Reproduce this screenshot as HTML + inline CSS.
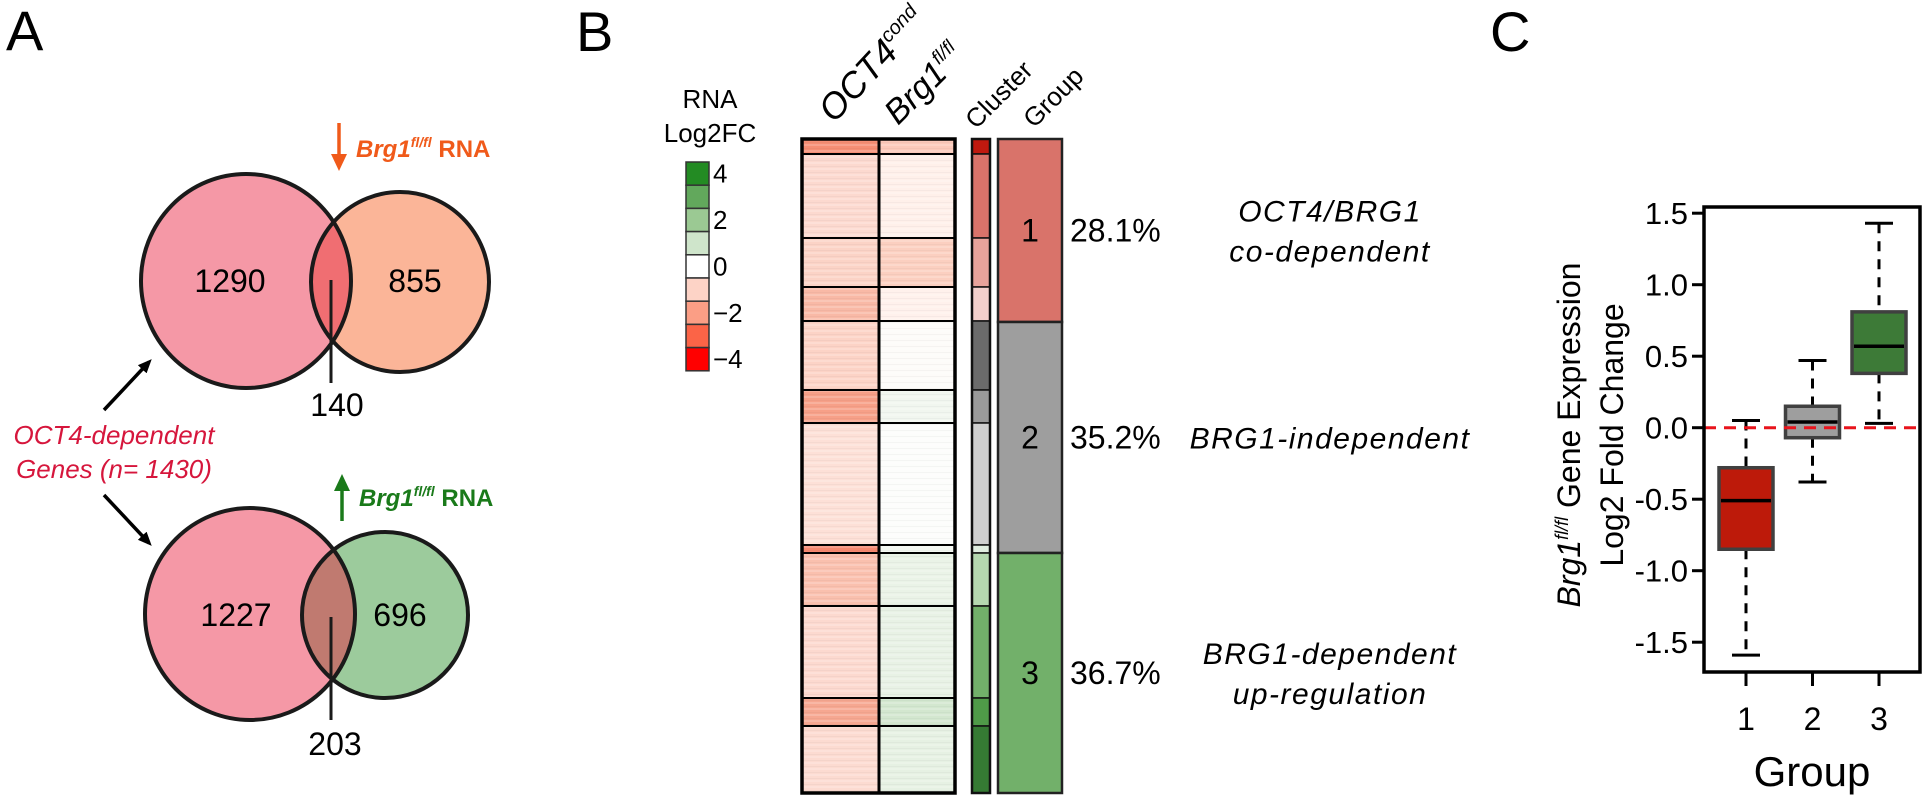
<!DOCTYPE html>
<html><head><meta charset="utf-8"><style>
html,body{margin:0;padding:0;background:#fff;}
svg{display:block;font-family:"Liberation Sans",Arial,sans-serif;}
</style></head><body>
<svg id="fig" width="1922" height="800" viewBox="0 0 1922 800" xmlns="http://www.w3.org/2000/svg">
<defs>
<marker id="ah" markerWidth="14" markerHeight="12" refX="10" refY="6" orient="auto" markerUnits="userSpaceOnUse"><path d="M0,0 L14,6 L0,12 Z" fill="#000"/></marker>
<pattern id="stripes" width="10" height="6" patternUnits="userSpaceOnUse"><rect width="10" height="2" y="0" fill="#fff" opacity="0.18"/><rect width="10" height="1" y="4" fill="#000" opacity="0.03"/></pattern>
</defs>

<!-- Panel A -->
<g>
<text x="6" y="50" font-size="56">A</text>
<g>
<ellipse cx="246" cy="281" rx="105" ry="107" fill="#f598a6"/>
<ellipse cx="400" cy="282" rx="89" ry="90" fill="#fbb598"/>
<clipPath id="c1"><ellipse cx="246" cy="281" rx="105" ry="107"/></clipPath>
<ellipse cx="400" cy="282" rx="89" ry="90" fill="#f06e72" clip-path="url(#c1)"/>
<ellipse cx="246" cy="281" rx="105" ry="107" fill="none" stroke="#1a1a1a" stroke-width="4"/>
<ellipse cx="400" cy="282" rx="89" ry="90" fill="none" stroke="#1a1a1a" stroke-width="4"/>
<text x="230" y="292" font-size="32" text-anchor="middle">1290</text>
<text x="415" y="292" font-size="32" text-anchor="middle">855</text>
<line x1="331" y1="280" x2="331" y2="383" stroke="#1a1a1a" stroke-width="3"/>
<text x="337" y="416" font-size="32" text-anchor="middle">140</text>
<line x1="339" y1="123" x2="339" y2="156" stroke="#f05a1a" stroke-width="3.5"/>
<path d="M331,154 L347,154 L339,171 Z" fill="#f05a1a"/>
<text x="356" y="157" font-size="24" font-weight="bold" fill="#f05a1a"><tspan font-style="italic">Brg1</tspan><tspan font-style="italic" font-size="14" dy="-10">fl/fl</tspan><tspan dy="10"> RNA</tspan></text>
</g>
<g>
<ellipse cx="250" cy="614" rx="105" ry="106" fill="#f598a6"/>
<ellipse cx="385" cy="615" rx="83" ry="83" fill="#9ccb9c"/>
<clipPath id="c2"><ellipse cx="250" cy="614" rx="105" ry="106"/></clipPath>
<ellipse cx="385" cy="615" rx="83" ry="83" fill="#c07a70" clip-path="url(#c2)"/>
<ellipse cx="250" cy="614" rx="105" ry="106" fill="none" stroke="#1a1a1a" stroke-width="4"/>
<ellipse cx="385" cy="615" rx="83" ry="83" fill="none" stroke="#1a1a1a" stroke-width="4"/>
<text x="236" y="626" font-size="32" text-anchor="middle">1227</text>
<text x="400" y="626" font-size="32" text-anchor="middle">696</text>
<line x1="331" y1="617" x2="331" y2="720" stroke="#1a1a1a" stroke-width="3"/>
<text x="335" y="755" font-size="32" text-anchor="middle">203</text>
<line x1="342" y1="521" x2="342" y2="489" stroke="#1a7a1a" stroke-width="3.5"/>
<path d="M334,491 L350,491 L342,474 Z" fill="#1a7a1a"/>
<text x="359" y="506" font-size="24" font-weight="bold" fill="#1a7a1a"><tspan font-style="italic">Brg1</tspan><tspan font-style="italic" font-size="14" dy="-10">fl/fl</tspan><tspan dy="10"> RNA</tspan></text>
</g>
<text x="114" y="444" font-size="26" font-style="italic" fill="#d6163c" text-anchor="middle">OCT4-dependent</text>
<text x="114" y="478" font-size="26" font-style="italic" fill="#d6163c" text-anchor="middle">Genes (n= 1430)</text>
<line x1="104" y1="410" x2="149" y2="362" stroke="#000" stroke-width="3.5" marker-end="url(#ah)"/>
<line x1="104" y1="495" x2="149" y2="543" stroke="#000" stroke-width="3.5" marker-end="url(#ah)"/>
</g>

<!-- Panel B -->
<g id="panelB">
<text x="576" y="51" font-size="56">B</text>
<text x="710" y="108" font-size="26" text-anchor="middle">RNA</text>
<text x="710" y="142" font-size="26" text-anchor="middle">Log2FC</text>
<g id="cbar"></g>
<g id="heat"></g>
<text transform="translate(834,124) rotate(-47)" font-size="36" font-style="italic">OCT4<tspan font-size="20" dy="-15">cond</tspan></text>
<text transform="translate(898,126) rotate(-45)" font-size="34" font-style="italic">Brg1<tspan font-size="19" dy="-14">fl/fl</tspan></text>
<text transform="translate(976,130) rotate(-45)" font-size="26">Cluster</text>
<text transform="translate(1034,129) rotate(-45)" font-size="26">Group</text>
</g>

<!-- Panel C -->
<g id="panelC">
<text x="1490" y="51" font-size="56">C</text>
<text transform="translate(1580,435) rotate(-90)" font-size="32" text-anchor="middle"><tspan font-style="italic">Brg1</tspan><tspan font-style="italic" font-size="18" dy="-12">fl/fl</tspan><tspan dy="12"> Gene Expression</tspan></text>
<text transform="translate(1623,435) rotate(-90)" font-size="32" text-anchor="middle">Log2 Fold Change</text>
<text x="1812" y="786" font-size="42" text-anchor="middle">Group</text>
<g id="boxplot"></g>
</g>
</svg>
<script>
const NS='http://www.w3.org/2000/svg';
function mk(tag,attrs,parent){const e=document.createElementNS(NS,tag);for(const k in attrs)e.setAttribute(k,attrs[k]);parent.appendChild(e);return e;}

// ---- Colorbar data ----
const cbarColors=['#238b23','#62a85c','#9bc993','#cfe5cb','#ffffff','#fdd3c6','#fb9e85','#fb6447','#ff0000'];
const cbarTicks=['4','2','0','\u22122','\u22124'];
const cb=document.getElementById('cbar');
const cbX=686,cbY=162,cbW=23,cbH=23.2;
cbarColors.forEach((c,i)=>{
  const r=mk('rect',{x:cbX,y:cbY+i*cbH,width:cbW,height:cbH,fill:c,stroke:'#333','stroke-width':1.5},cb);
  
  
});
cbarTicks.forEach((t,i)=>{
  const tx=mk('text',{x:cbX+cbW+4,y:cbY+(i*2+0.5)*cbH+9,'font-size':26},cb);
  tx.textContent=t;
  
  
});

// ---- Heatmap data ----
const clusterSizes=[15,84,49,34,69,33,122,8,53,92,28,67];
const oct4Colors=['#f68e74','#fcd9cf','#fbd3c6','#f9b9a6','#fcd3c6','#f7a088','#fde0d7','#f58870','#fac0ae','#fcd9cf','#f6a791','#fcdbd1'];
const brg1Colors=['#fcc9ba','#fff0ea','#fbcfc0','#fff1ec','#fdfbf9','#f1f6ef','#fcfdfb','#f4f8f2','#eaf3e7','#e8f2e5','#d3e7cf','#e6f1e3'];
const clusterColors=['#c0190f','#d9736a','#e8a39b','#f2d0cc','#6b6b6b','#9a9a9a','#cfcfcf','#e0ede0','#b5d8b0','#72b06a','#4f9a48','#357a33'];
const groupSizes=[183,231,240];
const groupLabels=['1','2','3'];
const groupPct=['28.1%','35.2%','36.7%'];
const groupColors=['#d9736a','#9e9e9e','#72b06a'];
const groupDesc=[['OCT4/BRG1','co-dependent'],['BRG1-independent'],['BRG1-dependent','up-regulation']];

const hm=document.getElementById('heat');
const hTop=139,hBot=793;
const total=clusterSizes.reduce((a,b)=>a+b,0);
const ys=v=>hTop+v/total*(hBot-hTop);
const col1X=802,col2X=879,colEnd=955,clX=972,clW=18,grX=998,grW=64;
let acc=0;
clusterSizes.forEach((s,i)=>{
  const y0=ys(acc),y1=ys(acc+s);
  const a=mk('rect',{x:col1X,y:y0,width:col2X-col1X,height:y1-y0,fill:oct4Colors[i]},hm);
  
  
  mk('rect',{x:col1X,y:y0,width:col2X-col1X,height:y1-y0,fill:'url(#stripes)'},hm);
  const b=mk('rect',{x:col2X,y:y0,width:colEnd-col2X,height:y1-y0,fill:brg1Colors[i]},hm);
  
  
  mk('rect',{x:col2X,y:y0,width:colEnd-col2X,height:y1-y0,fill:'url(#stripes)'},hm);
  if(acc>0) mk('line',{x1:col1X,x2:colEnd,y1:y0,y2:y0,stroke:'#000','stroke-width':2},hm);
  const c=mk('rect',{x:clX,y:y0,width:clW,height:y1-y0,fill:clusterColors[i],stroke:'#111','stroke-width':1.5},hm);
  
  
  acc+=s;
});
mk('rect',{x:col1X,y:hTop,width:colEnd-col1X,height:hBot-hTop,fill:'none',stroke:'#000','stroke-width':3.5},hm);
mk('line',{x1:col2X,x2:col2X,y1:hTop,y2:hBot,stroke:'#000','stroke-width':3},hm);
mk('rect',{x:clX,y:hTop,width:clW,height:hBot-hTop,fill:'none',stroke:'#111','stroke-width':2.5},hm);
const gTotal=groupSizes.reduce((a,b)=>a+b,0);
const gys=v=>hTop+v/gTotal*(hBot-hTop);
let gacc=0;
groupSizes.forEach((s,i)=>{
  const y0=gys(gacc),y1=gys(gacc+s),ym=(y0+y1)/2;
  const r=mk('rect',{x:grX,y:y0,width:grW,height:y1-y0,fill:groupColors[i],stroke:'#222','stroke-width':2.5},hm);
  
  
  const n=mk('text',{x:grX+grW/2,y:ym+11,'font-size':32,'text-anchor':'middle'},hm);
  n.textContent=groupLabels[i];
  
  
  const p=mk('text',{x:1070,y:ym+11,'font-size':32},hm);
  p.textContent=groupPct[i];
  
  
  const lines=groupDesc[i];
  lines.forEach((l,j)=>{
    const t=mk('text',{x:1330,y:ym+11+(j-(lines.length-1)/2)*40,'font-size':30,'font-style':'italic','text-anchor':'middle','letter-spacing':'1.5'},hm);
    t.textContent=l;
    
    
  });
  gacc+=s;
});

// ---- Boxplot data ----
const groups=['1','2','3'];
const whiskerLow=[-1.59,-0.38,0.03];
const q1=[-0.85,-0.07,0.38];
const median=[-0.51,0.04,0.57];
const q3=[-0.28,0.15,0.81];
const whiskerHigh=[0.05,0.47,1.43];
const boxColors=['#bd1a0a','#9e9e9e','#3d7a37'];
const yTicks=[1.5,1.0,0.5,0.0,-0.5,-1.0,-1.5];

const bp=document.getElementById('boxplot');
const pL=1704,pR=1920,pT=207,pB=672;
const yScale=v=>427.7-v*143;
const xScale=i=>1746+i*66.5;
const bw=54;
yTicks.forEach(t=>{
  const y=yScale(t);
  mk('line',{x1:pL-12,x2:pL,y1:y,y2:y,stroke:'#000','stroke-width':3},bp);
  const tx=mk('text',{x:pL-16,y:y+11,'font-size':31,'text-anchor':'end'},bp);
  tx.textContent=t.toFixed(1);
  
  
});
groups.forEach((g,i)=>{
  const x=xScale(i);
  mk('line',{x1:x,x2:x,y1:pB,y2:pB+14,stroke:'#000','stroke-width':3},bp);
  const tx=mk('text',{x:x,y:730,'font-size':32,'text-anchor':'middle'},bp);
  tx.textContent=g;
  
  
});
groups.forEach((g,i)=>{
  const x=xScale(i);
  const wg=mk('g',{},bp);
  
  
  mk('line',{x1:x,x2:x,y1:yScale(whiskerHigh[i]),y2:yScale(q3[i]),stroke:'#000','stroke-width':3,'stroke-dasharray':'10,8'},wg);
  mk('line',{x1:x,x2:x,y1:yScale(q1[i]),y2:yScale(whiskerLow[i]),stroke:'#000','stroke-width':3,'stroke-dasharray':'10,8'},wg);
  mk('line',{x1:x-14,x2:x+14,y1:yScale(whiskerHigh[i]),y2:yScale(whiskerHigh[i]),stroke:'#000','stroke-width':3},wg);
  mk('line',{x1:x-14,x2:x+14,y1:yScale(whiskerLow[i]),y2:yScale(whiskerLow[i]),stroke:'#000','stroke-width':3},wg);
  mk('rect',{x:x-bw/2,y:yScale(q3[i]),width:bw,height:yScale(q1[i])-yScale(q3[i]),fill:boxColors[i],stroke:'#404040','stroke-width':3.5},wg);
  mk('line',{x1:x-bw/2+2,x2:x+bw/2-2,y1:yScale(median[i]),y2:yScale(median[i]),stroke:'#000','stroke-width':3.5},wg);
});
const zl=mk('line',{x1:pL,x2:pR,y1:yScale(0),y2:yScale(0),stroke:'#e8141c','stroke-width':3,'stroke-dasharray':'12,8'},bp);


const fr=mk('rect',{x:pL,y:pT,width:pR-pL,height:pB-pT,fill:'none',stroke:'#000','stroke-width':3.5},bp);


</script>
</body></html>
